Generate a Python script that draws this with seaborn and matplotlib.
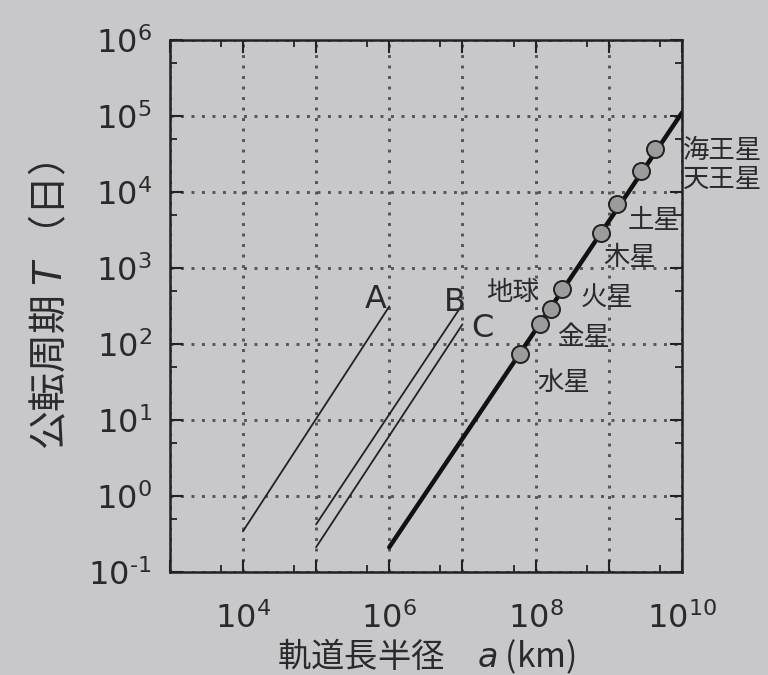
"""Kepler's third law chart: orbital period vs semi-major axis (log-log)."""

import math

import matplotlib
matplotlib.use("Agg")
import matplotlib.pyplot as plt
import matplotlib.ticker as mticker
import seaborn as sns
import pandas as pd

# planets (semi-major axis in km, period in days)
planet_names = ["水星", "金星", "地球", "火星", "木星", "土星", "天王星", "海王星"]
planet_a = [6.2e7, 1.15e8, 1.6e8, 2.3e8, 7.8e8, 1.3e9, 2.75e9, 4.3e9]
planet_T = [74, 180, 290, 520, 2900, 6900, 1.9e4, 3.7e4]

# reference lines (end points)
sun_a = [1e6, 1e10]
sun_T = [0.21, 1.1e5]
line_a_a = [1e4, 1e6]
line_a_T = [0.34, 310]
line_b_a = [1e5, 1e7]
line_b_T = [0.42, 330]
line_c_a = [1e5, 1e7]
line_c_T = [0.21, 180]

BG = "#c8c8ca"
INK = "#2a2a2a"

sns.set_theme(style="ticks")
plt.rcParams["font.family"] = ["Noto Sans CJK JP", "DejaVu Sans"]
plt.rcParams["mathtext.fontset"] = "dejavusans"

fig = plt.figure(figsize=(7.68, 6.75), dpi=100, facecolor=BG)
ax = fig.add_axes([0.221, 0.153, 0.667, 0.788], facecolor=BG)

for xs, ys in [(line_a_a, line_a_T), (line_b_a, line_b_T), (line_c_a, line_c_T)]:
    sns.lineplot(x=xs, y=ys, ax=ax, color="#222222", linewidth=1.3)
sns.lineplot(x=sun_a, y=sun_T, ax=ax, color="#111111", linewidth=3.2)

planets = pd.DataFrame({"name": planet_names, "a": planet_a, "T": planet_T})
sns.scatterplot(data=planets, x="a", y="T", ax=ax, s=150, color="#9c9c9c",
                edgecolor="#222222", linewidth=1.4, zorder=5)

ax.set_xscale("log")
ax.set_yscale("log")
ax.set_xlim(1e3, 1e10)
ax.set_ylim(1e-1, 1e6)

ax.xaxis.set_major_locator(mticker.LogLocator(base=10, numticks=20))
ax.yaxis.set_major_locator(mticker.LogLocator(base=10, numticks=20))
ax.xaxis.set_minor_locator(mticker.LogLocator(base=10, subs=[5], numticks=20))
ax.yaxis.set_minor_locator(mticker.LogLocator(base=10, subs=[5], numticks=20))
ax.xaxis.set_minor_formatter(mticker.NullFormatter())
ax.yaxis.set_minor_formatter(mticker.NullFormatter())


def pow10(v, _):
    exp = int(round(math.log10(v)))
    # short hyphen for negative exponents, as in the original
    s = str(exp).replace("-", "\u2010")
    return f"$10^{{{s}}}$"


ax.xaxis.set_major_formatter(mticker.FuncFormatter(pow10))
ax.yaxis.set_major_formatter(mticker.FuncFormatter(pow10))

ax.tick_params(which="both", direction="in", top=True, right=True,
               colors="#222222", labelcolor=INK)
ax.tick_params(which="major", length=9, width=1.5, labelsize=23)
ax.tick_params(axis="x", which="major", pad=22)
ax.tick_params(axis="y", which="major", pad=13)
ax.tick_params(which="minor", length=5, width=1.3)

# only even powers are labelled on the x axis
fig.canvas.draw()
for tick in ax.xaxis.get_major_ticks():
    exp = int(round(math.log10(tick.get_loc())))
    if exp % 2:
        tick.label1.set_visible(False)

ax.grid(True, which="major", linestyle=(0, (1, 2.6)), linewidth=2.1, color="#555555")
for sp in ax.spines.values():
    sp.set_linewidth(1.8)
    sp.set_color("#222222")

ax.set_xlabel("軌道長半径\u3000$\\it{a}$ (km)", fontsize=24, color=INK, labelpad=1)
ax.set_ylabel("公転周期 $\\it{T}$ （日）", fontsize=28, color=INK, labelpad=12)

# planet labels
label_pos = {
    "海王星": (1.02e10, 3.5e4),
    "天王星": (1.02e10, 1.45e4),
    "土星": (1.8e9, 4.2e3),
    "木星": (8.3e8, 1.35e3),
    "火星": (4.1e8, 4.1e2),
    "地球": (2.1e7, 4.8e2),
    "金星": (1.95e8, 1.2e2),
    "水星": (1.05e8, 3.1e1),
}
for name, (x, y) in label_pos.items():
    ax.text(x, y, name, fontsize=19, color=INK, va="center", ha="left",
            clip_on=False)

for name, (x, y) in {"A": (6.6e5, 3.8e2), "B": (7.9e6, 3.5e2), "C": (1.9e7, 1.6e2)}.items():
    ax.text(x, y, name, fontsize=23, color=INK, va="center", ha="center",
            family="DejaVu Sans")

fig.savefig("out.png", dpi=100, facecolor=BG)
plt.close(fig)
